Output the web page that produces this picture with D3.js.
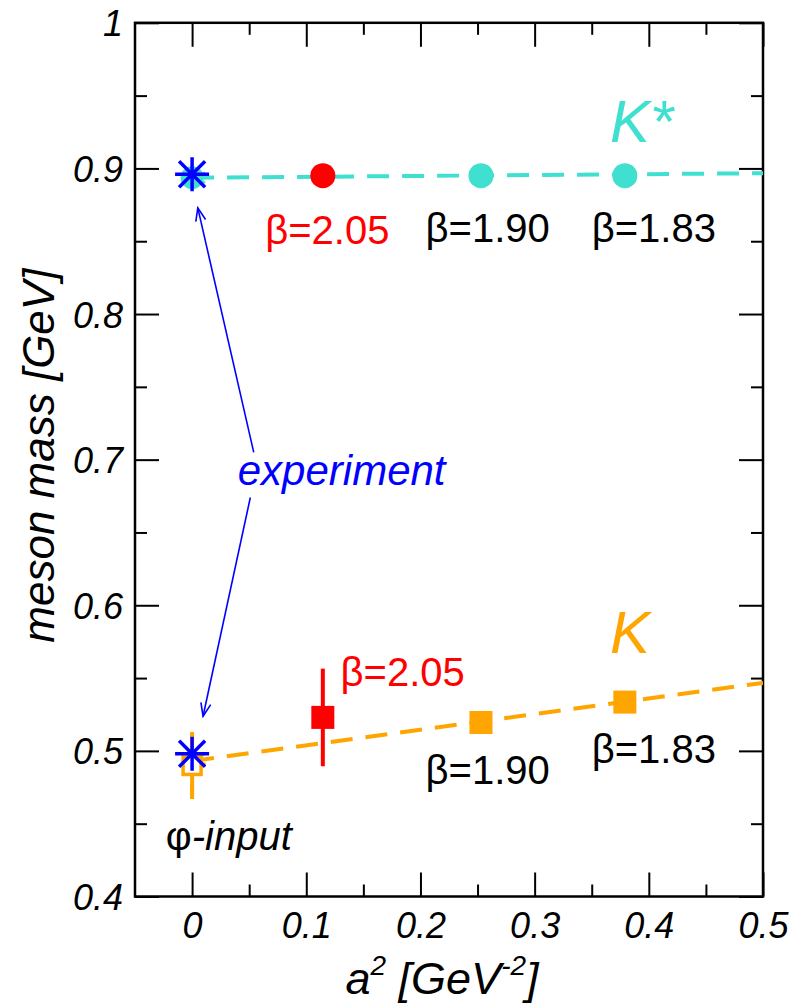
<!DOCTYPE html>
<html><head><meta charset="utf-8">
<script src="https://cdn.jsdelivr.net/npm/d3@7"></script>
<style>
html,body{margin:0;padding:0;background:#fff;}
svg{display:block;}
</style></head>
<body>
<svg id="chart" width="790" height="1005"></svg>
<script>
// ---- data ----
const xDomain = [-0.05, 0.5];
const yDomain = [0.4, 1.0];
const xTicks = [0, 0.1, 0.2, 0.3, 0.4, 0.5];
const xTickLabels = ["0", "0.1", "0.2", "0.3", "0.4", "0.5"];
const xMinor = [0.05, 0.15, 0.25, 0.35, 0.45];
const yTicks = [0.4, 0.5, 0.6, 0.7, 0.8, 0.9, 1.0];
const yTickLabels = ["0.4", "0.5", "0.6", "0.7", "0.8", "0.9", "1"];
const yMinor = [0.45, 0.55, 0.65, 0.75, 0.85, 0.95];

const betas = ["2.05", "1.90", "1.83"];
const a2 = [0.1145, 0.253, 0.379];
const kStarMass = [0.895, 0.895, 0.895];
const kMass = [0.523, 0.5195, 0.5335];
const kErr = [0.0335, 0.002, 0.002];
const pointColors = ["#ff0000", null, null];

const kStarFit = {x: [0, 0.5], y: [0.8936, 0.8967]};
const kFit = {x: [0, 0.5], y: [0.493, 0.5467]};

const kStarCont = {x: 0, y: 0.8936};
const kPhiInput = {x: 0, y: 0.490, err: 0.023};
const expMass = [0.896, 0.498];   // K*, K experiment

const colStar = "#40e0d0", colK = "#ffa500", colRed = "#ff0000", colBlue = "#0000ff";

// ---- layout ----
const W = 790, H = 1005;
const m = {l: 135, r: 27, t: 22.8, b: 108.5};
const x = d3.scaleLinear().domain(xDomain).range([m.l, W - m.r]);
const y = d3.scaleLinear().domain(yDomain).range([H - m.b, m.t]);
const svg = d3.select("#chart");

const tickFont = "'Liberation Sans Narrow','Liberation Sans',Arial,sans-serif";
const mainFont = "'Liberation Sans',Arial,sans-serif";

// frame
svg.append("rect").attr("x", x(xDomain[0])).attr("y", y(yDomain[1]))
  .attr("width", x(xDomain[1]) - x(xDomain[0])).attr("height", y(yDomain[0]) - y(yDomain[1]))
  .attr("fill", "none").attr("stroke", "#000").attr("stroke-width", 2.5);

// axes with inward ticks
function addAxis(axisGen, tr, vals, size, labels) {
  const g = svg.append("g").attr("transform", tr)
    .call(axisGen.tickValues(vals).tickSize(size).tickSizeOuter(0)
      .tickFormat((d, i) => labels ? labels[i] : ""));
  g.select(".domain").remove();
  g.selectAll(".tick line").attr("stroke", "#000").attr("stroke-width", 2);
  return g;
}
const bottomY = y(yDomain[0]), topY = y(yDomain[1]), leftX = x(xDomain[0]), rightX = x(xDomain[1]);
// bottom
const gb = addAxis(d3.axisBottom(x), `translate(0,${bottomY})`, xTicks, -24, xTickLabels);
gb.selectAll(".tick text").attr("y", 41).attr("dy", 0)
  .style("font-family", tickFont).style("font-style", "italic").style("font-size", "36px").attr("fill", "#000");
addAxis(d3.axisBottom(x), `translate(0,${bottomY})`, xMinor, -12, null);
// top
addAxis(d3.axisTop(x), `translate(0,${topY})`, xTicks, -24, null);
addAxis(d3.axisTop(x), `translate(0,${topY})`, xMinor, -12, null);
// left
const gl = addAxis(d3.axisLeft(y), `translate(${leftX},0)`, yTicks, -24, yTickLabels);
gl.selectAll(".tick text").attr("x", -12).attr("dy", "0.36em")
  .style("font-family", tickFont).style("font-style", "italic").style("font-size", "36px").attr("fill", "#000");
addAxis(d3.axisLeft(y), `translate(${leftX},0)`, yMinor, -12, null);
// right
addAxis(d3.axisRight(y), `translate(${rightX},0)`, yTicks, -24, null);
addAxis(d3.axisRight(y), `translate(${rightX},0)`, yMinor, -12, null);
svg.selectAll(".tick text").filter(function(){return this.textContent === "";}).remove();

// axis titles
const xt = svg.append("text").attr("x", 442).attr("y", 994).attr("text-anchor", "middle")
  .style("font-family", tickFont).style("font-style", "italic").style("font-size", "45px");
xt.append("tspan").text("a");
xt.append("tspan").attr("dy", -19).style("font-size", "28px").text("2");
xt.append("tspan").attr("dy", 19).text(" [GeV");
xt.append("tspan").attr("dy", -19).style("font-size", "28px").text("-2");
xt.append("tspan").attr("dy", 19).text("]");

svg.append("text").attr("transform", `translate(54,${(topY + bottomY) / 2 - 4}) rotate(-90)`)
  .attr("text-anchor", "middle")
  .style("font-family", tickFont).style("font-style", "italic").style("font-size", "44px")
  .text("meson mass [GeV]");

// clip
svg.append("clipPath").attr("id", "clip").append("rect")
  .attr("x", leftX).attr("y", topY).attr("width", rightX - leftX).attr("height", bottomY - topY);
const plot = svg.append("g").attr("clip-path", "url(#clip)");

// defs arrow markers
const defs = svg.append("defs");
function openArrow(id, color, w) {
  defs.append("marker").attr("id", id).attr("viewBox", "-14 -8 16 16")
    .attr("refX", 0).attr("refY", 0).attr("markerWidth", 16).attr("markerHeight", 16)
    .attr("markerUnits", "userSpaceOnUse").attr("orient", "auto-start-reverse")
    .append("path").attr("d", "M-13,-5 L0,0 L-13,5").attr("fill", "none")
    .attr("stroke", color).attr("stroke-width", w);
}
openArrow("arrB", colBlue, 1.6);
openArrow("arrS", colStar, 2.5);
openArrow("arrK", colK, 2.5);

// fit lines
const line = d3.line().x(d => x(d[0])).y(d => y(d[1]));
plot.append("path").datum(d3.zip(kStarFit.x, kStarFit.y)).attr("d", line)
  .attr("fill", "none").attr("stroke", colStar).attr("stroke-width", 4)
  .attr("stroke-dasharray", "22,13").attr("marker-start", "url(#arrS)");
plot.append("path").datum(d3.zip(kFit.x, kFit.y)).attr("d", line)
  .attr("fill", "none").attr("stroke", colK).attr("stroke-width", 4)
  .attr("stroke-dasharray", "22,13").attr("marker-start", "url(#arrK)");

// continuum K* circle
plot.append("circle").attr("cx", x(kStarCont.x)).attr("cy", y(kStarCont.y)).attr("r", 11.5)
  .attr("fill", colStar);

// phi-input open square with error bar
plot.append("line").attr("x1", x(kPhiInput.x)).attr("x2", x(kPhiInput.x))
  .attr("y1", y(kPhiInput.y - kPhiInput.err)).attr("y2", y(kPhiInput.y + kPhiInput.err))
  .attr("stroke", colK).attr("stroke-width", 4);
plot.append("rect").attr("x", x(kPhiInput.x) - 9).attr("y", y(kPhiInput.y) - 9)
  .attr("width", 18).attr("height", 18).attr("fill", "#fff").attr("stroke", colK).attr("stroke-width", 3.5);
plot.append("line").attr("x1", x(kPhiInput.x)).attr("x2", x(kPhiInput.x))
  .attr("y1", y(kPhiInput.y - kPhiInput.err)).attr("y2", y(kPhiInput.y - kPhiInput.err) - 14)
  .attr("stroke", colK).attr("stroke-width", 4);

// K* points
a2.forEach((v, i) => {
  plot.append("circle").attr("cx", x(v)).attr("cy", y(kStarMass[i])).attr("r", 12.5)
    .attr("fill", pointColors[i] || colStar);
});
// K points with error bars
a2.forEach((v, i) => {
  const c = pointColors[i] || colK;
  plot.append("line").attr("x1", x(v)).attr("x2", x(v))
    .attr("y1", y(kMass[i] - kErr[i])).attr("y2", y(kMass[i] + kErr[i]))
    .attr("stroke", c).attr("stroke-width", 4);
  plot.append("rect").attr("x", x(v) - 11.5).attr("y", y(kMass[i]) - 11.5)
    .attr("width", 23).attr("height", 23).attr("fill", c);
});

// experiment asterisks
expMass.forEach(v => {
  const g = plot.append("g").attr("transform", `translate(${x(0)},${y(v)})`);
  const L = 17, D = 13;
  [[-L,0,L,0],[0,-L,0,L],[-D,-D,D,D],[-D,D,D,-D]].forEach(s =>
    g.append("line").attr("x1", s[0]).attr("y1", s[1]).attr("x2", s[2]).attr("y2", s[3])
      .attr("stroke", colBlue).attr("stroke-width", 3.5));
});

// experiment arrows
const arrows = [
  {from: [0.054, 0.705], to: [0.005, 0.8729]},
  {from: [0.051, 0.674], to: [0.0096, 0.5238]}
];
arrows.forEach(a => {
  svg.append("line").attr("x1", x(a.from[0])).attr("y1", y(a.from[1]))
    .attr("x2", x(a.to[0])).attr("y2", y(a.to[1]))
    .attr("stroke", colBlue).attr("stroke-width", 1.6).attr("marker-end", "url(#arrB)");
});

// labels
const labels = [
  {t: "\u03b2=2.05", x: 0.0640, y: 0.8481, c: colRed, s: 40, it: false},
  {t: "\u03b2=1.90", x: 0.2045, y: 0.8495, c: "#000", s: 40, it: false},
  {t: "\u03b2=1.83", x: 0.3500, y: 0.8495, c: "#000", s: 40, it: false},
  {t: "\u03b2=2.05", x: 0.1300, y: 0.5444, c: colRed, s: 40, it: false},
  {t: "\u03b2=1.90", x: 0.2045, y: 0.4771, c: "#000", s: 40, it: false},
  {t: "\u03b2=1.83", x: 0.3500, y: 0.4916, c: "#000", s: 40, it: false},
  {t: "K*", x: 0.366, y: 0.9182, c: colStar, s: 60, it: true},
  {t: "K", x: 0.366, y: 0.567, c: colK, s: 60, it: true},
  {t: "experiment", x: 0.040, y: 0.6825, c: colBlue, s: 42, it: true}
];
labels.forEach(l => {
  svg.append("text").attr("x", x(l.x)).attr("y", y(l.y)).attr("fill", l.c)
    .style("font-family", mainFont).style("font-size", l.s + "px")
    .style("font-style", l.it ? "italic" : "normal").text(l.t);
});
const phi = svg.append("text").attr("x", x(-0.023)).attr("y", y(0.4318)).attr("fill", "#000")
  .style("font-family", mainFont).style("font-size", "40px");
phi.append("tspan").text("\u03c6");
phi.append("tspan").style("font-style", "italic").text("-input");
</script>
</body></html>
